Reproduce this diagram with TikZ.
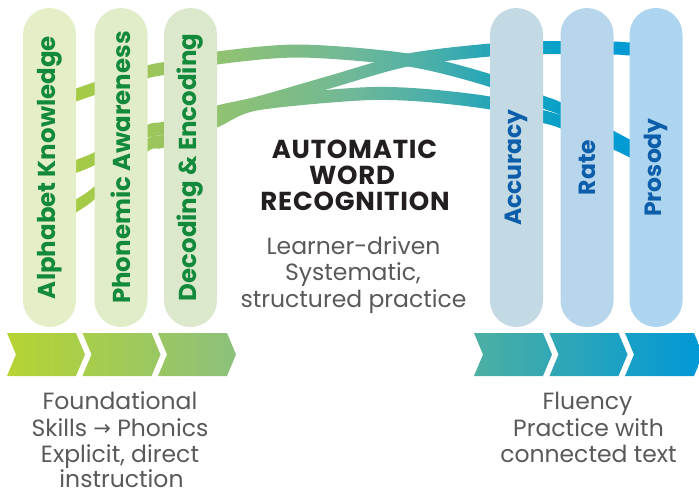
\documentclass[tikz,border=0pt]{standalone}
\usepackage{fontspec}
\setmainfont{Poppins}
\newfontfamily\arrowfont{DejaVu Sans}
\definecolor{bA}{HTML}{AACD3A}
\definecolor{bB}{HTML}{9CC65A}
\definecolor{bC}{HTML}{8EC174}
\definecolor{bD}{HTML}{70B897}
\definecolor{bE}{HTML}{4BAFA9}
\definecolor{bF}{HTML}{24A5B8}
\definecolor{bG}{HTML}{08A0C9}
\definecolor{bH}{HTML}{0098D6}
\definecolor{chA}{HTML}{B6D433}
\definecolor{chB}{HTML}{8CC07C}
\definecolor{chC}{HTML}{4CAFA3}
\definecolor{chD}{HTML}{0098D7}
\definecolor{pAlpha}{HTML}{E5EFC7}
\definecolor{pPhon}{HTML}{E1ECC9}
\definecolor{pDec}{HTML}{DBE8CC}
\definecolor{pAcc}{HTML}{C3D9E4}
\definecolor{pRate}{HTML}{B8D6EB}
\definecolor{pPros}{HTML}{ADD5F0}
\definecolor{greentext}{HTML}{138A3B}
\definecolor{bluetext}{HTML}{0C5EAA}
\definecolor{titlecol}{HTML}{231F20}
\definecolor{bodycol}{HTML}{58595B}
\pgfdeclarehorizontalshading{bandsh}{100bp}{color(0bp)=(bA); color(27.86bp)=(bA); color(35.73bp)=(bB); color(41.45bp)=(bC); color(50.04bp)=(bD); color(55.76bp)=(bE); color(60.05bp)=(bF); color(65.06bp)=(bG); color(70.78bp)=(bH); color(100bp)=(bH)}
\tikzset{
  pill/.style={rotate=90, rounded corners=26.5pt, minimum width=319pt, minimum height=53pt, inner sep=0pt, outer sep=0pt},
  gpill/.style={pill, text=greentext, font=\fontsize{24.5}{26}\selectfont\bfseries},
  bpill/.style={pill, text=bluetext, font=\fontsize{23.5}{26}\selectfont\bfseries},
  titletext/.style={font=\fontsize{26}{28}\selectfont\bfseries\addfontfeatures{LetterSpace=3}, text=titlecol, inner sep=0pt},
  bodytext/.style={font=\fontsize{23.5}{27}\selectfont, text=bodycol, inner sep=0pt},
}
\begin{document}
\begin{tikzpicture}[x=1pt, y=-1pt]
\useasboundingbox (0,0) rectangle (699,496);
% bands
\begin{scope}
\clip plot[smooth] coordinates {(40,100.5) (76,88.5) (95,82) (147,65.5) (164,62) (217,51.5) (300,44.5) (408,53.5) (490,74) (543,95.5) (561,102.5) (613,130.5) (630,139.5) (660,153.5)}
 -- plot[smooth] coordinates {(660,166.5) (630,152.5) (613,143.5) (561,115.5) (543,108.5) (490,87) (408,66.5) (300,57.5) (217,64.5) (164,75) (147,78.5) (95,95) (76,101.5) (40,113.5)} -- cycle;
\shade[shading=bandsh] (0,0) rectangle (699,496);
\end{scope}
\begin{scope}
\clip plot[smooth] coordinates {(40,175) (76,160) (95,152) (147,125) (164,121.5) (217,105.5) (257,96.5) (330,75.5) (408,53.5) (490,43.5) (543,41) (561,41) (613,41.5) (630,42.5) (665,43.5)}
 -- plot[smooth] coordinates {(665,56.5) (630,55.5) (613,54.5) (561,54) (543,54) (490,56.5) (408,66.5) (330,88.5) (257,109.5) (217,118.5) (164,134.5) (147,138) (95,165) (76,173) (40,188)} -- cycle;
\shade[shading=bandsh] (0,0) rectangle (699,496);
\end{scope}
\begin{scope}
\clip plot[smooth] coordinates {(45,219.5) (76,199.5) (95,186) (147,139) (164,134.5) (217,114.5) (257,97.5) (360,87.5) (420,88.5) (490,96.5) (543,110) (561,115.5) (613,136.5) (630,144.5) (660,158.5)}
 -- plot[smooth] coordinates {(660,171.5) (630,157.5) (613,149.5) (561,128.5) (543,123) (490,109.5) (420,101.5) (360,100.5) (257,110.5) (217,127.5) (164,147.5) (147,152) (95,199) (76,212.5) (45,232.5)} -- cycle;
\shade[shading=bandsh] (0,0) rectangle (699,496);
\end{scope}
% pills
\node[gpill, fill=pAlpha] (alpha) at (49.5,167.5) {Alphabet Knowledge};
\node[gpill, fill=pPhon] (phon) at (121,167.5) {Phonemic Awareness};
\node[gpill, fill=pDec] (dec) at (190.5,167.5) {Decoding \& Encoding};
\node[bpill, fill=pAcc] (acc) at (516.5,167.5) {Accuracy};
\node[bpill, fill=pRate] (rate) at (587,167.5) {Rate};
\node[bpill, fill=pPros] (pros) at (656,167.5) {Prosody};
% chevrons
\shade[left color=chA, right color=chB]
  (7,333) -- (76,333) -- (85,354.5) -- (76,376) -- (7,376) -- (16,354.5) -- cycle
  (82.5,333) -- (151.5,333) -- (160.5,354.5) -- (151.5,376) -- (82.5,376) -- (91.5,354.5) -- cycle
  (158,333) -- (227,333) -- (236,354.5) -- (227,376) -- (158,376) -- (167,354.5) -- cycle;
\shade[left color=chC, right color=chD]
  (474,333) -- (543,333) -- (552,354.5) -- (543,376) -- (474,376) -- (483,354.5) -- cycle
  (549.5,333) -- (618.5,333) -- (627.5,354.5) -- (618.5,376) -- (549.5,376) -- (558.5,354.5) -- cycle
  (625,333) -- (694,333) -- (703,354.5) -- (694,376) -- (625,376) -- (634,354.5) -- cycle;
% centre text
\node[titletext, anchor=base] (t1) at (354.5,158.5) {AUTOMATIC};
\node[titletext, anchor=base] (t2) at (352,184.5) {WORD};
\node[titletext, anchor=base] (t3) at (355,210.5) {RECOGNITION};
\node[bodytext, anchor=base] (m1) at (353.5,254.5) {Learner-driven};
\node[bodytext, anchor=base] (m2) at (353,280.5) {Systematic,};
\node[bodytext, anchor=base] (m3) at (353.5,307.5) {structured practice};
% bottom texts
\node[bodytext, anchor=base] (l1) at (120,409.5) {Foundational};
\node[bodytext, anchor=base] (l2) at (120,436) {Skills {\arrowfont\fontsize{21}{21}\selectfont\raisebox{1pt}{→}} Phonics};
\node[bodytext, anchor=base] (l3) at (120,462.5) {Explicit, direct};
\node[bodytext, anchor=base] (l4) at (121.5,487) {instruction};
\node[bodytext, anchor=base] (r1) at (587.5,409.5) {Fluency};
\node[bodytext, anchor=base] (r2) at (588.5,436) {Practice with};
\node[bodytext, anchor=base] (r3) at (588.5,462.5) {connected text};
\end{tikzpicture}
\end{document}
